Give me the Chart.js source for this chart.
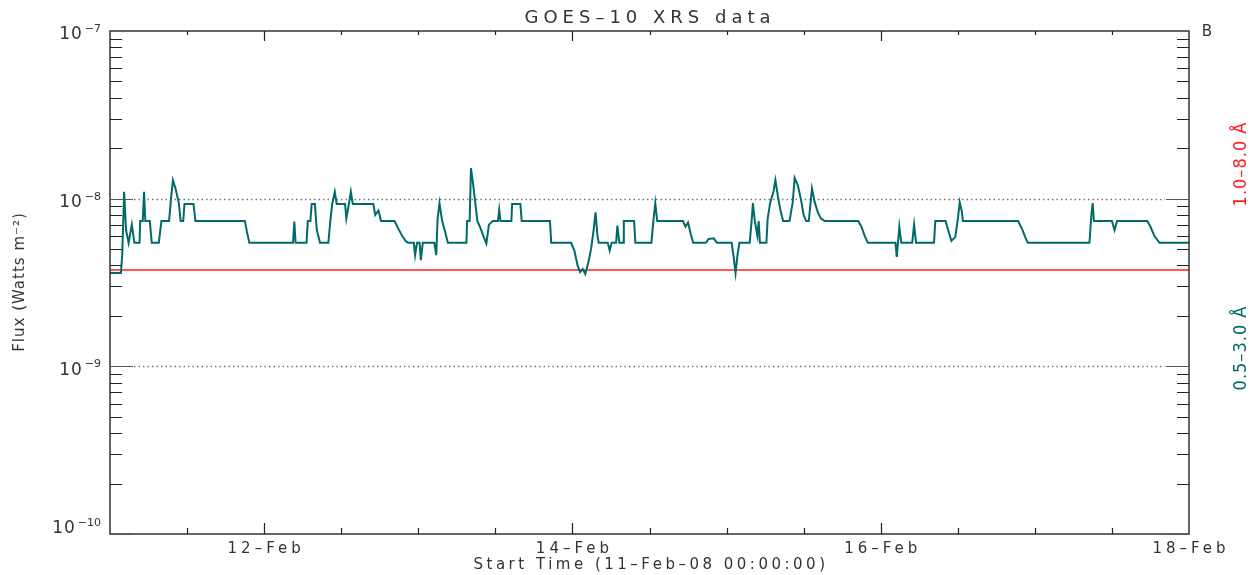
<!DOCTYPE html>
<html>
<head>
<meta charset="utf-8">
<script src="https://cdn.jsdelivr.net/npm/chart.js@4.4.1/dist/chart.umd.min.js"></script>
<style>
  html, body { margin: 0; padding: 0; background: #fff; }
  #wrap { width: 1254px; height: 575px; }
</style>
</head>
<body>
<div id="wrap"><canvas id="goesChart" width="1254" height="575"></canvas></div>
<script>
// hours since 11-Feb-08 00:00 and flux (W m^-2)
var tealReadings = [
  [0.0,3.6e-9],[1.7,3.6e-9],[1.9,4.6e-9],[2.2,1.1e-8],[2.5,6.5e-9],[2.9,5.45e-9],[3.4,7.0e-9],[3.8,5.45e-9],
  [4.6,5.45e-9],[4.7,7.35e-9],[5.1,7.35e-9],[5.3,1.1e-8],[5.5,7.35e-9],[6.2,7.35e-9],[6.5,5.45e-9],[7.6,5.45e-9],
  [8.0,7.35e-9],[9.2,7.35e-9],[9.5,1.0e-8],[9.8,1.29e-8],[10.2,1.15e-8],[10.7,9.5e-9],[11.0,7.35e-9],[11.4,7.35e-9],
  [11.6,9.3e-9],[13.0,9.3e-9],[13.3,7.35e-9],[21.0,7.35e-9],[21.3,6.4e-9],[21.7,5.45e-9],[28.5,5.45e-9],[28.7,7.3e-9],
  [28.9,5.45e-9],[30.6,5.45e-9],[30.8,7.35e-9],[31.2,7.35e-9],[31.4,9.3e-9],[31.9,9.3e-9],[32.2,6.5e-9],[32.7,5.45e-9],
  [34.0,5.45e-9],[34.3,7.35e-9],[34.6,9.3e-9],[35.0,1.1e-8],[35.3,9.3e-9],[36.6,9.3e-9],[36.8,7.6e-9],[37.2,9.3e-9],
  [37.5,1.1e-8],[37.8,9.3e-9],[41.0,9.3e-9],[41.3,8.0e-9],[41.8,8.5e-9],[42.2,7.35e-9],[44.3,7.35e-9],[45.0,6.5e-9],
  [45.5,6.0e-9],[46.0,5.6e-9],[46.4,5.45e-9],[47.3,5.45e-9],[47.5,4.6e-9],[47.8,5.45e-9],[48.2,5.45e-9],[48.4,4.3e-9],
  [48.7,5.45e-9],[50.5,5.45e-9],[50.8,4.6e-9],[51.0,7.5e-9],[51.3,9.4e-9],[51.7,7.4e-9],[52.2,6.3e-9],[52.6,5.45e-9],
  [55.5,5.45e-9],[55.6,7.35e-9],[56.0,7.35e-9],[56.2,1.52e-8],[56.5,1.25e-8],[56.8,1.0e-8],[57.2,7.35e-9],[57.6,6.8e-9],
  [58.2,5.9e-9],[58.6,5.4e-9],[59.0,7.0e-9],[59.6,7.35e-9],[60.4,7.35e-9],[60.6,8.6e-9],[60.8,7.35e-9],[62.5,7.35e-9],
  [62.6,9.3e-9],[63.9,9.3e-9],[64.1,7.35e-9],[68.5,7.35e-9],[68.7,5.45e-9],[71.8,5.45e-9],[72.3,4.9e-9],[72.8,4.0e-9],
  [73.2,3.65e-9],[73.6,3.8e-9],[74.0,3.55e-9],[74.5,4.2e-9],[74.9,5.0e-9],[75.3,6.5e-9],[75.6,8.3e-9],[75.9,6.0e-9],
  [76.1,5.45e-9],[77.5,5.45e-9],[77.8,4.9e-9],[78.1,5.45e-9],[78.8,5.45e-9],[79.0,6.9e-9],[79.3,5.45e-9],[79.9,5.45e-9],
  [80.0,7.35e-9],[81.6,7.35e-9],[81.8,5.45e-9],[84.3,5.45e-9],[84.6,7.35e-9],[84.9,9.4e-9],[85.2,7.35e-9],[89.2,7.35e-9],
  [89.6,6.8e-9],[90.0,7.2e-9],[90.4,6.2e-9],[90.8,5.45e-9],[92.8,5.45e-9],[93.2,5.75e-9],[94.0,5.8e-9],[94.5,5.45e-9],
  [96.8,5.45e-9],[97.1,4.5e-9],[97.4,3.6e-9],[97.7,4.6e-9],[98.0,5.45e-9],[99.6,5.45e-9],[99.9,7.35e-9],[100.1,9.4e-9],
  [100.4,7.35e-9],[100.8,6.0e-9],[101.0,7.35e-9],[101.2,5.45e-9],[102.2,5.45e-9],[102.4,7.6e-9],[102.8,9.5e-9],[103.3,1.1e-8],
  [103.6,1.29e-8],[104.0,1.03e-8],[104.4,8.5e-9],[104.8,7.35e-9],[105.8,7.35e-9],[106.3,9.5e-9],[106.6,1.33e-8],[107.1,1.2e-8],
  [107.6,9.8e-9],[108.0,8.0e-9],[108.4,7.35e-9],[108.8,7.35e-9],[109.3,1.15e-8],[109.7,9.6e-9],[110.2,8.3e-9],[110.7,7.6e-9],
  [111.3,7.35e-9],[116.5,7.35e-9],[117.0,6.8e-9],[117.5,6.0e-9],[118.0,5.45e-9],[122.3,5.45e-9],[122.5,4.5e-9],[122.9,6.8e-9],
  [123.2,5.45e-9],[124.9,5.45e-9],[125.2,7.0e-9],[125.5,5.45e-9],[128.3,5.45e-9],[128.5,7.35e-9],[130.1,7.35e-9],[130.5,6.5e-9],
  [131.0,5.6e-9],[131.6,5.9e-9],[132.0,7.5e-9],[132.3,9.5e-9],[132.6,8.5e-9],[132.8,7.35e-9],[141.4,7.35e-9],[142.0,6.6e-9],
  [142.5,5.9e-9],[142.9,5.45e-9],[152.5,5.45e-9],[152.8,8.0e-9],[153.0,9.4e-9],[153.2,7.35e-9],[156.0,7.35e-9],[156.4,6.5e-9],
  [156.8,7.35e-9],[161.5,7.35e-9],[162.0,6.8e-9],[162.6,6.0e-9],[163.4,5.45e-9],[168.0,5.45e-9]
];
var redHours = [0, 168];
var redFlux = [3.75e-9, 3.75e-9];

var xTickHours = [24, 72, 120, 168];
var xTickLabels = ['12\u2013Feb', '14\u2013Feb', '16\u2013Feb', '18\u2013Feb'];
var yDecades = [-7, -8, -9, -10];
var dottedLevels = [1e-8, 1e-9];

var TEAL = 'rgb(0,106,106)';
var RED = 'rgb(255,30,30)';
var FONT = '"DejaVu Sans", sans-serif';

function drawText(ctx, txt, x, y, size, opts) {
  opts = opts || {};
  ctx.save();
  ctx.translate(x, y);
  if (opts.rotate) ctx.rotate(opts.rotate);
  ctx.font = size + 'px ' + (opts.family || FONT);
  ctx.fillStyle = opts.color || '#333';
  ctx.textAlign = opts.align || 'center';
  ctx.textBaseline = 'middle';
  ctx.letterSpacing = (opts.spacing || 0) + 'px';
  ctx.fillText(txt, 0, 0);
  ctx.restore();
}

var idlFrame = {
  id: 'idlFrame',
  beforeDatasetsDraw: function (chart) {
    var ctx = chart.ctx, a = chart.chartArea, y = chart.scales.y;
    ctx.save();
    ctx.strokeStyle = '#777';
    ctx.lineWidth = 1.3;
    ctx.setLineDash([1.5, 3]);
    dottedLevels.forEach(function (v) {
      var py = Math.round(y.getPixelForValue(v)) + 0.5;
      ctx.beginPath();
      ctx.moveTo(a.left + 24, py);
      ctx.lineTo(a.right - 24, py);
      ctx.stroke();
    });
    ctx.restore();
  },
  afterDraw: function (chart) {
    var ctx = chart.ctx, a = chart.chartArea, x = chart.scales.x, y = chart.scales.y;
    ctx.save();
    ctx.strokeStyle = '#333';
    ctx.lineWidth = 1.5;
    ctx.strokeRect(a.left, a.top, a.right - a.left, a.bottom - a.top);

    // y ticks, both sides
    ctx.lineWidth = 1.2;
    for (var e = -10; e <= -8; e++) {
      for (var k = 1; k <= 9; k++) {
        var py = Math.round(y.getPixelForValue(k * Math.pow(10, e))) + 0.5;
        var len = k === 1 ? 23 : 12;
        ctx.strokeStyle = k === 1 ? '#555' : '#222';
        ctx.beginPath();
        ctx.moveTo(a.left, py); ctx.lineTo(a.left + len, py);
        ctx.moveTo(a.right, py); ctx.lineTo(a.right - len, py);
        ctx.stroke();
      }
    }
    // x ticks, top and bottom
    ctx.strokeStyle = '#222';
    for (var h = 12; h < 168; h += 12) {
      var px = Math.round(x.getPixelForValue(h)) + 0.5;
      var major = xTickHours.indexOf(h) >= 0;
      ctx.beginPath();
      ctx.moveTo(px, a.bottom); ctx.lineTo(px, a.bottom - (major ? 11 : 6));
      ctx.moveTo(px, a.top); ctx.lineTo(px, a.top + (major ? 10 : 4));
      ctx.stroke();
    }
    ctx.restore();

    // y labels 10^n
    yDecades.forEach(function (d) {
      var py = y.getPixelForValue(Math.pow(10, d));
      var base = Math.min(py + 4, a.bottom - 5);
      ctx.save();
      ctx.font = '11px ' + FONT;
      var ew = ctx.measureText('\u2212' + (-d)).width;
      ctx.restore();
      drawText(ctx, '\u2212' + (-d), 101, base - 6, 11, { align: 'right' });
      drawText(ctx, '10', 101 - ew - 2, base, 17, { align: 'right', spacing: 1 });
    });
    // x labels
    xTickHours.forEach(function (h, i) {
      drawText(ctx, xTickLabels[i], x.getPixelForValue(h) + 2, 549, 15, { spacing: 4 });
    });

    drawText(ctx, 'GOES\u201310 XRS data', 650, 18, 18, { spacing: 5 });
    drawText(ctx, 'Start Time (11\u2013Feb\u201308 00:00:00)', 651, 565, 15, { spacing: 3.5 });
    drawText(ctx, 'Flux (Watts m\u207B\u00B2)', 20, 282, 15, { rotate: -Math.PI / 2, spacing: 1 });
    drawText(ctx, 'B', 1207, 32, 15, {});
    var narrow = '"Liberation Sans Narrow", "DejaVu Sans Condensed", sans-serif';
    drawText(ctx, '1.0\u20138.0 \u00C5', 1241, 164, 18, { rotate: -Math.PI / 2, color: RED, family: narrow, spacing: 1 });
    drawText(ctx, '0.5\u20133.0 \u00C5', 1241, 348, 18, { rotate: -Math.PI / 2, color: TEAL, family: narrow, spacing: 1 });
  }
};

var ctx = document.getElementById('goesChart').getContext('2d');
var myChart = new Chart(ctx, {
  type: 'line',
  data: {
    datasets: [
      {
        label: '0.5-3.0 A',
        data: tealReadings.map(function (p) { return { x: p[0], y: p[1] }; }),
        borderColor: TEAL,
        backgroundColor: TEAL,
        borderWidth: 2,
        pointRadius: 0,
        tension: 0
      },
      {
        label: '1.0-8.0 A',
        data: redHours.map(function (h, i) { return { x: h, y: redFlux[i] }; }),
        borderColor: RED,
        backgroundColor: RED,
        borderWidth: 1.5,
        pointRadius: 0
      }
    ]
  },
  options: {
    responsive: false,
    animation: false,
    layout: { padding: { top: 31, right: 65, left: 0, bottom: 0 } },
    plugins: { legend: { display: false }, tooltip: { enabled: false }, title: { display: false } },
    scales: {
      x: {
        type: 'linear', min: 0, max: 168,
        ticks: { display: false },
        grid: { display: false },
        border: { display: false },
        afterFit: function (s) { s.height = 41; }
      },
      y: {
        type: 'logarithmic', min: 1e-10, max: 1e-7,
        ticks: { display: false },
        grid: { display: false },
        border: { display: false },
        afterFit: function (s) { s.width = 110; }
      }
    }
  },
  plugins: [idlFrame]
});
</script>
</body>
</html>
